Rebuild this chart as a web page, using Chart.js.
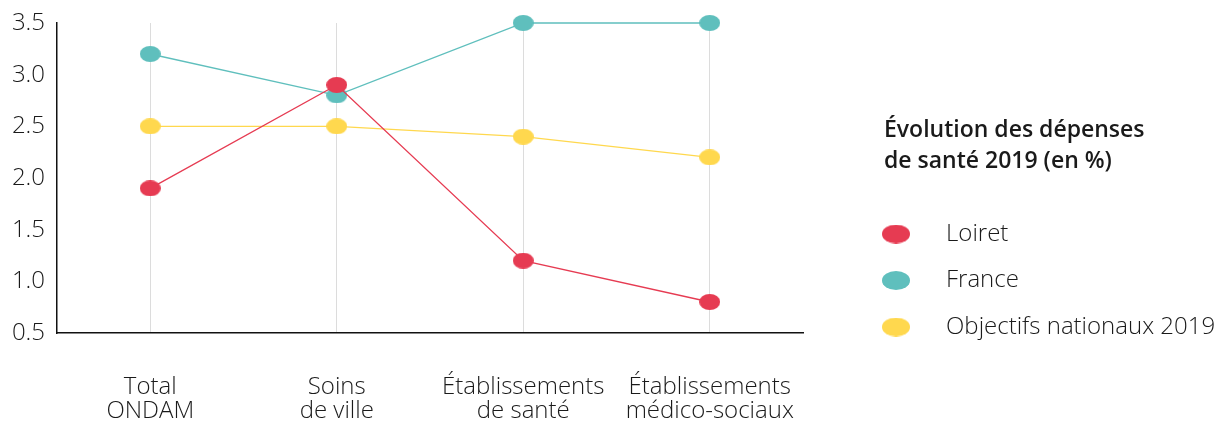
<!DOCTYPE html>
<html><head><meta charset="utf-8">
<script src="https://cdn.jsdelivr.net/npm/chart.js@4/dist/chart.umd.min.js"></script>
<style>html,body{margin:0;padding:0;background:#fff}#wrap{width:1220px;height:423px;position:relative}</style>
</head><body><div id="wrap"><canvas id="c" width="1220" height="423"></canvas></div>
<script>
const categories = [["Total","ONDAM"],["Soins","de ville"],["Établissements","de santé"],["Établissements","médico-sociaux"]];
const loiret = [1.9, 2.9, 1.2, 0.8];
const france = [3.2, 2.8, 3.5, 3.5];
const objectifs = [2.5, 2.5, 2.4, 2.2];
const seriesNames = ["Loiret","France","Objectifs nationaux 2019"];
const legendTitle = ["Évolution des dépenses","de santé 2019 (en %)"];
const yTicks = [0.5,1.0,1.5,2.0,2.5,3.0,3.5];

const FONT = "'Open Sans', sans-serif";
const colors = ["#e63b52","#5fbfbd","#ffd84e"];
function ellipse(color, w, h){
  const c = document.createElement('canvas'); c.width = w; c.height = h;
  const x = c.getContext('2d'); x.fillStyle = color; x.beginPath();
  x.ellipse(w/2, h/2, w/2, h/2, 0, 0, Math.PI*2); x.fill(); return c;
}
const pts = colors.map(c => ellipse(c, 21, 16));
const legPts = colors.map(c => ellipse(c, 28, 19));

const legendPlugin = {
  id: 'customLegend',
  afterDraw(chart){
    const ctx = chart.ctx; ctx.save();
    ctx.fillStyle = '#1a1a1a'; ctx.textBaseline = 'middle'; ctx.textAlign = 'left';
    ctx.font = "600 23px " + FONT;
    legendTitle.forEach((t,i)=> ctx.fillText(t, 884, 130 + i*31));
    ctx.font = "300 24px " + FONT;
    chart.data.datasets.forEach((ds,i)=>{
      const y = 234 + i*46.5;
      ctx.drawImage(legPts[i], 882, y - 9.5);
      ctx.fillText(ds.label, 946, y);
    });
    ctx.restore();
  }
};

new Chart(document.getElementById('c'), {
  type: 'line',
  data: {
    labels: categories,
    datasets: [
      {label: seriesNames[0], data: loiret, borderColor: colors[0], pointStyle: pts[0]},
      {label: seriesNames[1], data: france, borderColor: colors[1], pointStyle: pts[1]},
      {label: seriesNames[2], data: objectifs, borderColor: colors[2], pointStyle: pts[2]}
    ].map(d => Object.assign(d, {borderWidth: 1.3, fill: false, tension: 0, clip: false}))
  },
  options: {
    responsive: false, animation: false, events: [],
    layout: {padding: {top: 23, right: 417, left: 0, bottom: 0}},
    plugins: {legend: {display: false}, tooltip: {enabled: false}},
    scales: {
      x: {
        offset: true,
        grid: {offset: false, color: '#dcdcdc', lineWidth: 1, drawTicks: false},
        border: {color: '#111', width: 1.5},
        ticks: {color: '#1a1a1a', font: {family: FONT, size: 24, weight: 300, lineHeight: 1.0}, padding: 42, maxRotation: 0, autoSkip: false},
        afterFit(s){ s.height = 90; }
      },
      y: {
        min: 0.5, max: 3.5,
        afterBuildTicks(s){ s.ticks = yTicks.map(v => ({value: v})); },
        grid: {display: false, drawTicks: false},
        border: {color: '#111', width: 1.5},
        ticks: {color: '#1a1a1a', font: {family: FONT, size: 24, weight: 300, lineHeight: 0.9}, padding: 12, callback: v => v.toFixed(1)},
        afterFit(s){ s.width = 57; }
      }
    }
  },
  plugins: [legendPlugin]
});
</script></body></html>
